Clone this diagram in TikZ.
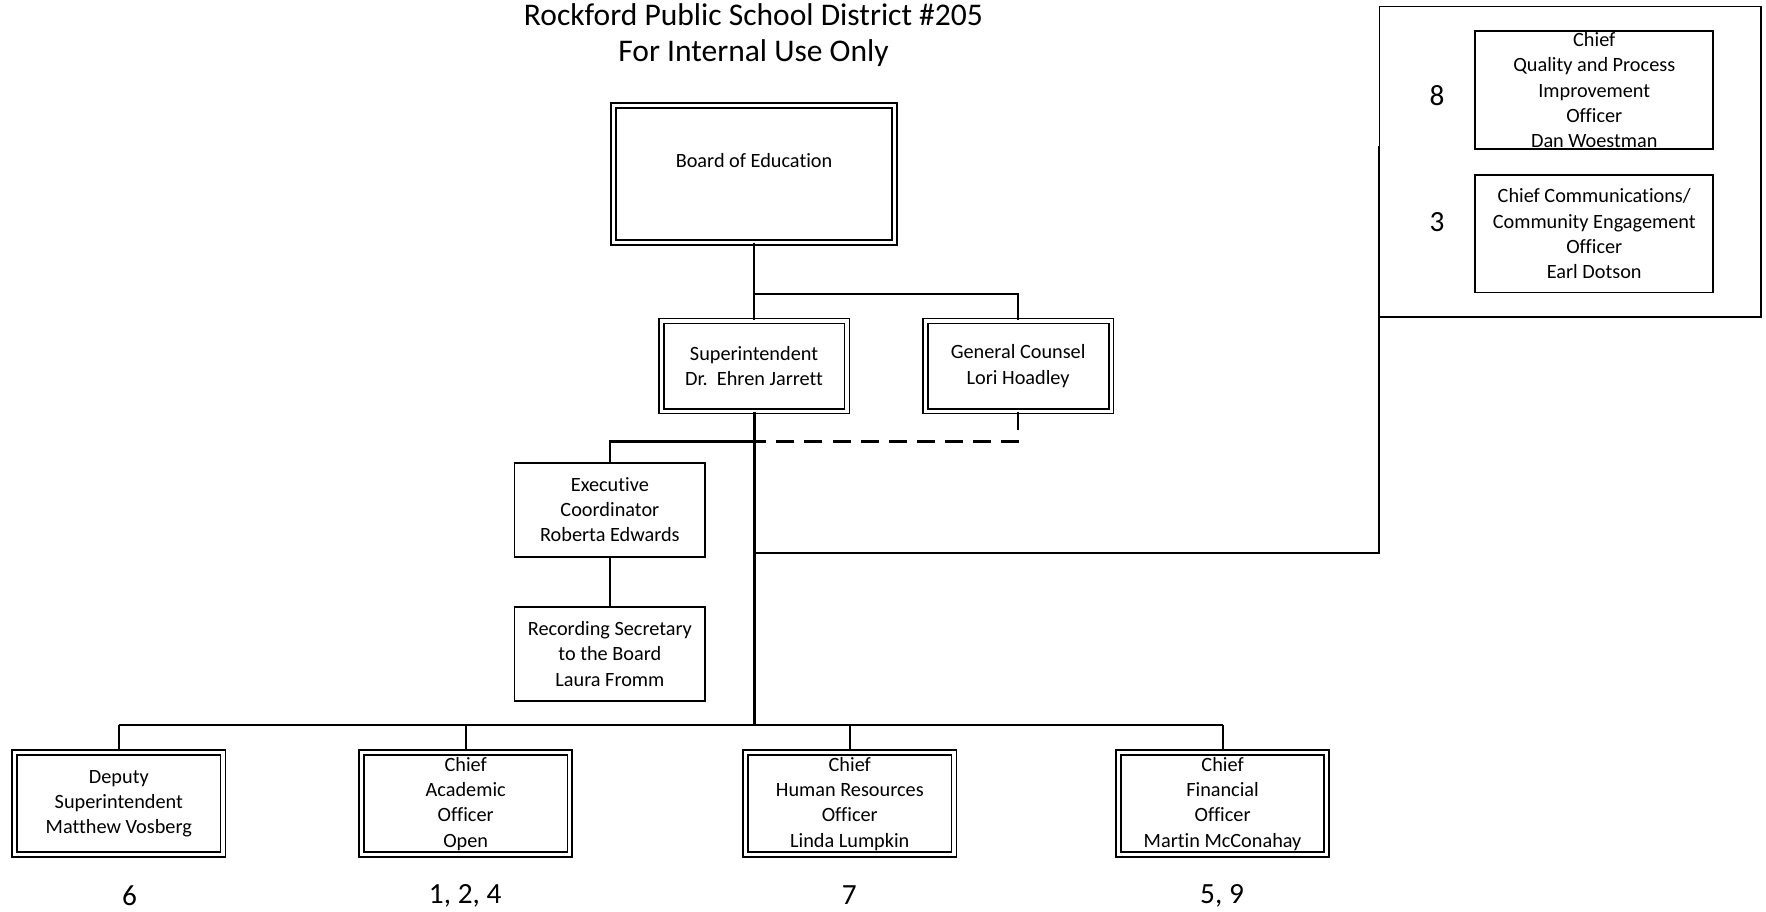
\documentclass[tikz,border=0pt]{standalone}
\usepackage{fontspec}
\setmainfont{Carlito}[Ligatures=CommonOff]

\begin{document}
\begin{tikzpicture}[
    x=0.5pt, y=-0.5pt,
    % Keretek: dupla vonalas es sima dobozok
    dbox/.style={draw, double, double distance=1.4pt, line width=0.8pt,
        align=center, inner sep=0pt, font=\fontsize{9}{11.25}\selectfont},
    sbox/.style={draw, line width=0.8pt,
        align=center, inner sep=0pt, font=\fontsize{9}{11.25}\selectfont},
    link/.style={line width=0.9pt},
    num/.style={font=\fontsize{13}{15}\selectfont, inner sep=1pt}
]
    \useasboundingbox (0,0) rectangle (1568,809);

    % Cim
    \node[font=\fontsize{14}{16}\selectfont, align=center] (title) at (669,31)
        {Rockford Public School District \#205\\For Internal Use Only};

    % Felso szint
    \node[dbox, minimum width=124.5pt, minimum height=60.5pt,
        text height=7pt, text depth=12.5pt] (board) at (669.5,154.5) {Board of Education};
    \node[dbox, minimum width=82.5pt, minimum height=40pt] (super) at (669.5,325)
        {Superintendent\\Dr.~\ Ehren Jarrett};
    \node[dbox, minimum width=82.5pt, minimum height=40pt] (counsel) at (904,325)
        {General Counsel\\Lori Hoadley};

    % Titkarsag
    \node[sbox, minimum width=84.7pt, minimum height=41.7pt] (exec) at (541.5,452.5)
        {Executive\\Coordinator\\Roberta Edwards};
    \node[sbox, minimum width=84.7pt, minimum height=41.7pt] (record) at (541.5,580.5)
        {Recording Secretary\\to the Board\\Laura Fromm};

    % Also sor
    \node[dbox, minimum width=92.5pt, minimum height=45.5pt] (deputy) at (105.5,713.5)
        {Deputy\\Superintendent\\Matthew Vosberg};
    \node[dbox, minimum width=92.5pt, minimum height=45.5pt] (academic) at (413.5,713.5)
        {Chief\\Academic\\Officer\\Open};
    \node[dbox, minimum width=92.5pt, minimum height=45.5pt] (hr) at (754.5,713.5)
        {Chief\\Human Resources\\Officer\\Linda Lumpkin};
    \node[dbox, minimum width=92.5pt, minimum height=45.5pt] (finance) at (1085.5,713.5)
        {Chief\\Financial\\Officer\\Martin McConahay};

    \node[num] (n6) at (115,795) {6};
    \node[num] (n124) at (413,795) {1, 2, 4};
    \node[num] (n7) at (754,795) {7};
    \node[num] (n59) at (1085,795) {5, 9};

    % Jobb oldali csoport
    \node[draw, line width=0.8pt, minimum width=169.2pt, minimum height=137.7pt,
        inner sep=0pt] (cabinet) at (1394,143.5) {};
    \node[sbox, minimum width=105.7pt, minimum height=52.2pt] (quality) at (1415.5,80)
        {Chief\\Quality and Process\\Improvement\\Officer\\Dan Woestman};
    \node[sbox, minimum width=105.7pt, minimum height=52.2pt] (comms) at (1415.5,207.5)
        {Chief Communications/\\Community Engagement\\Officer\\Earl Dotson};
    \node[num] (n8) at (1276,85) {8};
    \node[num] (n3) at (1276,197) {3};

    % Csatlakozasi pontok
    \coordinate (split) at (669.5,261);
    \coordinate (execjoin) at (669.5,392);
    \coordinate (sidejoin) at (669.5,491);
    \coordinate (bus) at (669.5,644);
    \coordinate (cabinetin) at (cabinet.west |- 0,130);

    % Vonalak
    \draw[link] (board.south) -- (super.north);
    \draw[link] (split) -| (counsel.north);
    \draw[link, line width=1.3pt] (super.south) -- (bus);
    \draw[link] (execjoin) -| (exec.north);
    \draw[link, dash pattern=on 8pt off 4.5pt] (counsel.south) |- (execjoin);
    \draw[link] (exec) -- (record);
    \draw[link] (sidejoin) -| (cabinetin);
    \draw[link] (deputy.north |- bus) -- (finance.north |- bus);
    \foreach \n in {deputy,academic,hr,finance}
        \draw[link] (\n.north) -- (\n.north |- bus);
\end{tikzpicture}
\end{document}
